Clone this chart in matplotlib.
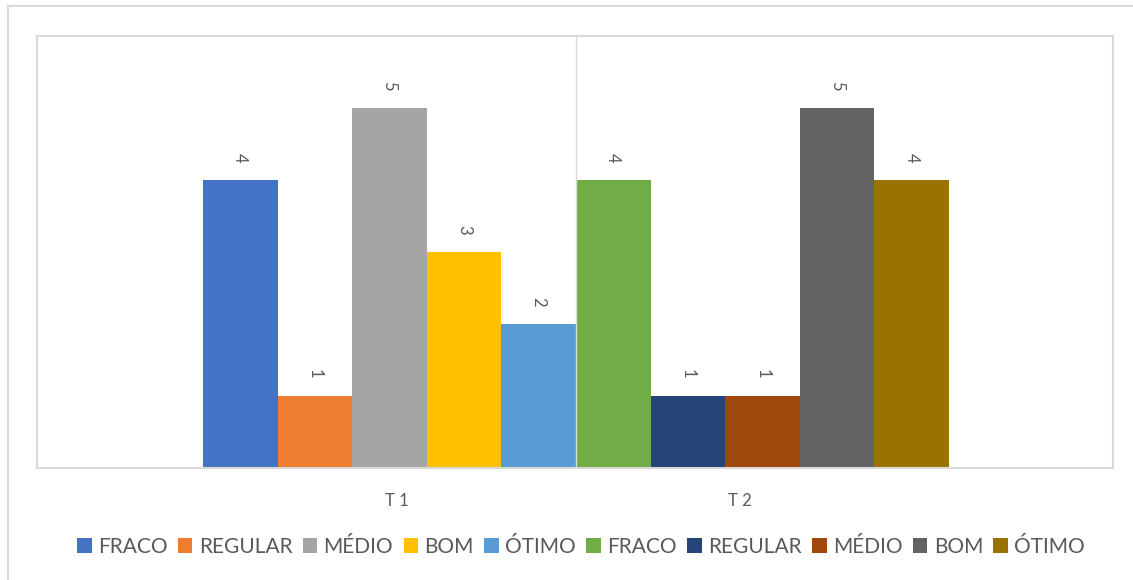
import matplotlib.pyplot as plt
from matplotlib.lines import Line2D

categories = ['T 1', 'T 2']
labels = ['FRACO', 'REGULAR', 'MÉDIO', 'BOM', 'ÓTIMO',
          'FRACO', 'REGULAR', 'MÉDIO', 'BOM', 'ÓTIMO']
values = [4, 1, 5, 3, 2, 4, 1, 1, 5, 4]
colors = ['#4472C4', '#ED7D31', '#A5A5A5', '#FFC000', '#5B9BD5',
          '#70AD47', '#264478', '#9E480E', '#636363', '#997300']


def main():
    plt.rcParams['font.family'] = ['Lato', 'DejaVu Sans']
    W, H = 1133, 580
    fig = plt.figure(figsize=(W / 100, H / 100), dpi=100)

    # outer chart frame (partly cropped)
    fig.add_artist(Line2D([8 / W, 8 / W], [0, 1 - 6 / H], color='#d9d9d9', lw=1.5))
    fig.add_artist(Line2D([8 / W, 1], [1 - 6 / H, 1 - 6 / H], color='#d9d9d9', lw=1.5))

    ax = fig.add_axes([37 / W, (H - 468) / H, 1076 / W, 432 / H])

    xs = list(range(len(values)))
    bars = ax.bar(xs, values, width=1.0, color=colors, label=labels)

    for b, v in zip(bars, values):
        ax.annotate(str(v), (b.get_x() + b.get_width() / 2, v),
                    xytext=(0, 16), textcoords='offset points',
                    ha='center', va='center', rotation=-90,
                    fontsize=12, color='#595959')

    ax.set_xlim(-2.725, 11.70)
    ax.set_ylim(0, 6)

    # divider between the two categories
    ax.axvline(4.5, color='#d9d9d9', lw=1)

    ax.set_xticks([2.1, 6.7])
    ax.set_xticklabels(categories, fontsize=12, color='#595959')
    ax.tick_params(axis='x', length=0, pad=18)
    ax.set_yticks([])

    for s in ax.spines.values():
        s.set_color('#d9d9d9')
        s.set_linewidth(1.5)

    fig.legend(handles=bars, labels=labels, loc='center',
               bbox_to_anchor=(581 / W, 1 - 547 / H), ncol=10,
               frameon=False, fontsize=15, labelcolor='#595959',
               handlelength=0.7, handleheight=0.7, handletextpad=0.3,
               columnspacing=0.5)

    plt.savefig('out.png', dpi=100)


if __name__ == "__main__":
    main()
